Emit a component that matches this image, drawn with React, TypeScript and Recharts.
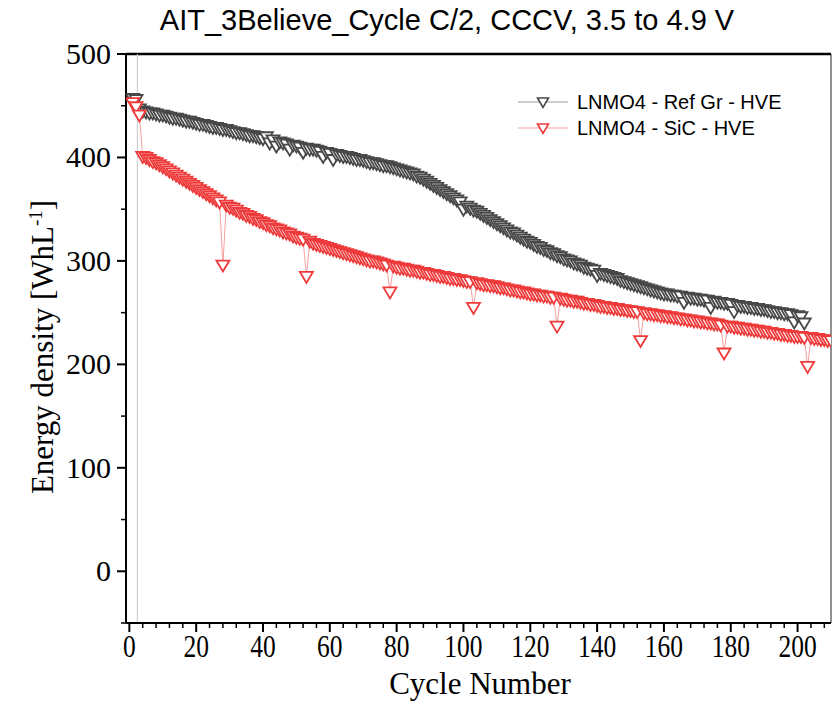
import { LineChart, Line, XAxis, YAxis, ReferenceLine, Legend } from "recharts";

const SERIF = "'Liberation Serif', 'Times New Roman', serif";
const SANS = "'Liberation Sans', Arial, sans-serif";

const chartTitle = "AIT_3Believe_Cycle C/2, CCCV, 3.5 to 4.9 V";
const seriesNames = ["LNMO4 - Ref Gr - HVE", "LNMO4 - SiC - HVE"];

// energy density per cycle (cycle 1..n), WhL-1
const refGrValues = [
  457, 456, 447, 445, 444, 443, 443, 442, 441, 441,
  440, 439, 438, 438, 437, 436, 435, 435, 434, 433,
  432, 432, 431, 430, 429, 429, 428, 427, 427, 426,
  425, 424, 424, 423, 422, 421, 421, 420, 419, 418,
  420, 414, 417, 411, 415, 414, 413, 408, 412, 411,
  410, 405, 409, 408, 408, 407, 406, 401, 405, 404,
  398, 403, 402, 401, 401, 400, 399, 398, 398, 397,
  396, 395, 395, 394, 393, 392, 392, 391, 390, 389,
  388, 387, 386, 385, 384, 382, 381, 379, 377, 375,
  373, 371, 369, 367, 365, 363, 361, 359, 357, 350,
  353, 351, 349, 348, 346, 344, 342, 340, 338, 336,
  334, 332, 330, 328, 327, 325, 323, 321, 319, 318,
  316, 314, 313, 311, 310, 308, 307, 305, 304, 302,
  301, 300, 298, 297, 296, 294, 293, 292, 291, 286,
  288, 287, 286, 285, 284, 283, 281, 280, 279, 278,
  277, 276, 275, 274, 273, 272, 271, 270, 269, 268,
  268, 267, 267, 266, 266, 260, 265, 264, 264, 263,
  263, 262, 262, 255, 261, 260, 260, 259, 259, 258,
  251, 257, 256, 256, 255, 255, 254, 254, 253, 253,
  252, 251, 251, 250, 250, 249, 249, 248, 241, 247,
  246, 240,
];

const sicValues = [
  453, 449, 441, 401, 400, 398, 396, 395, 393, 391,
  389, 387, 385, 383, 381, 379, 377, 375, 373, 371,
  369, 367, 365, 363, 361, 359, 357, 296, 354, 352,
  351, 349, 347, 346, 344, 343, 341, 340, 338, 337,
  335, 334, 332, 331, 330, 328, 327, 326, 324, 323,
  322, 321, 285, 319, 317, 316, 315, 314, 313, 312,
  311, 310, 309, 308, 307, 306, 305, 304, 303, 302,
  301, 300, 300, 299, 298, 297, 296, 270, 295, 294,
  293, 293, 292, 291, 291, 290, 289, 289, 288, 287,
  287, 286, 285, 285, 284, 283, 283, 282, 282, 281,
  280, 280, 255, 279, 278, 277, 277, 276, 276, 275,
  274, 274, 273, 272, 272, 271, 270, 270, 269, 268,
  268, 267, 267, 266, 266, 265, 265, 237, 264, 263,
  262, 262, 261, 261, 260, 259, 259, 258, 258, 257,
  256, 256, 255, 255, 254, 254, 253, 253, 252, 252,
  251, 251, 223, 250, 249, 249, 248, 248, 247, 247,
  246, 246, 245, 245, 244, 244, 243, 243, 242, 242,
  241, 241, 240, 240, 239, 239, 238, 211, 237, 237,
  236, 236, 235, 235, 234, 234, 233, 233, 232, 232,
  231, 231, 230, 230, 229, 229, 228, 228, 227, 227,
  227, 226, 198, 226, 225, 225, 224, 224, 223, 223,
];

const xMajorTicks = [0, 20, 40, 60, 80, 100, 120, 140, 160, 180, 200];
const xAllTicks = [
  0, 4, 8, 12, 16, 20, 24, 28, 32, 36, 40, 44, 48, 52, 56, 60, 64, 68, 72, 76,
  80, 84, 88, 92, 96, 100, 104, 108, 112, 116, 120, 124, 128, 132, 136, 140,
  144, 148, 152, 156, 160, 164, 168, 172, 176, 180, 184, 188, 192, 196, 200,
  204, 208,
];
const yMajorTicks = [0, 100, 200, 300, 400, 500];
const yAllTicks = [-50, 0, 50, 100, 150, 200, 250, 300, 350, 400, 450, 500];

const refGrData = refGrValues.map((v, i) => ({ cycle: i + 1, value: v }));
const sicData = sicValues.map((v, i) => ({ cycle: i + 1, value: v }));

const GRAY_MARK = "#484848";
const GRAY_LINE = "#9c9c9c";
const RED_MARK = "#ee3a3a";
const RED_LINE = "#f6a0a0";

function triangleDot(color: string) {
  return (props: any) => {
    const { cx, cy, index } = props;
    if (cx == null || cy == null) return <g key={index} />;
    return (
      <polygon
        key={index}
        points={`${cx - 6.5},${cy - 4.5} ${cx + 6.5},${cy - 4.5} ${cx},${cy + 6.5}`}
        fill="#fff"
        stroke={color}
        strokeWidth={1.8}
      />
    );
  };
}

function XTick(props: any) {
  const { x, y, payload } = props;
  const major = xMajorTicks.includes(payload.value);
  return (
    <g>
      <line x1={x} x2={x} y1={y} y2={y + (major ? 9 : 5)} stroke="#000" strokeWidth={major ? 2 : 1.5} />
      {major && (
        <text
          transform={`translate(${x},${y + 34}) scale(0.85,1.05)`}
          textAnchor="middle"
          fontFamily={SERIF}
          fontSize={30}
          fill="#000"
        >
          {payload.value}
        </text>
      )}
    </g>
  );
}

function YTick(props: any) {
  const { x, y, payload } = props;
  const major = yMajorTicks.includes(payload.value);
  return (
    <g>
      <line x1={x - (major ? 9 : 5)} x2={x} y1={y} y2={y} stroke="#000" strokeWidth={major ? 2 : 1.5} />
      {major && (
        <text x={x - 15} y={y + 10} textAnchor="end" fontFamily={SERIF} fontSize={30} fill="#000">
          {payload.value}
        </text>
      )}
    </g>
  );
}

function LegendBox() {
  const rows = [
    { name: seriesNames[0], mark: GRAY_MARK, line: GRAY_LINE },
    { name: seriesNames[1], mark: RED_MARK, line: RED_LINE },
  ];
  return (
    <svg width={320} height={60}>
      {rows.map((r, i) => {
        const cy = 14 + i * 26;
        return (
          <g key={r.name}>
            <line x1={8} x2={58} y1={cy} y2={cy} stroke={r.line} strokeWidth={1.2} />
            <polygon
              points={`${33 - 5.5},${cy - 4} ${33 + 5.5},${cy - 4} ${33},${cy + 5.5}`}
              fill="#fff"
              stroke={r.mark}
              strokeWidth={1.6}
            />
            <text x={67} y={cy + 7} fontFamily={SANS} fontSize={20} fill="#000">
              {r.name}
            </text>
          </g>
        );
      })}
    </svg>
  );
}

export default function App() {
  return (
    <div style={{ position: "relative", width: 833, height: 709, background: "#fff" }}>
      <style>{"body{margin:0}"}</style>
      <div
        style={{
          position: "absolute",
          left: 447,
          top: 6,
          transform: "translateX(-50%)",
          whiteSpace: "nowrap",
          fontFamily: SANS,
          fontSize: 29,
          lineHeight: "29px",
          color: "#000",
          zIndex: 2,
        }}
      >
        {chartTitle}
      </div>
      <LineChart width={833} height={709} margin={{ top: 54, right: 2, bottom: 0, left: 0 }}>
        <XAxis
          dataKey="cycle"
          type="number"
          domain={[-1, 210]}
          ticks={xAllTicks}
          interval={0}
          allowDataOverflow
          height={86}
          tickSize={0}
          tickMargin={0}
          tickLine={false}
          axisLine={{ stroke: "#000", strokeWidth: 2 }}
          tick={XTick}
          label={{
            content: () => (
              <text x={480} y={694} textAnchor="middle" fontFamily={SERIF} fontSize={31} fill="#000">
                Cycle Number
              </text>
            ),
          }}
        />
        <YAxis
          type="number"
          domain={[-50, 500]}
          ticks={yAllTicks}
          interval={0}
          allowDataOverflow
          width={126}
          tickSize={0}
          tickMargin={0}
          tickLine={false}
          axisLine={{ stroke: "#000", strokeWidth: 2 }}
          tick={YTick}
          label={{
            content: () => (
              <text
                transform="translate(53,347) rotate(-90)"
                textAnchor="middle"
                fontFamily={SERIF}
                fontSize={31}
                fill="#000"
              >
                Energy density [WhL
                <tspan dy={-11} fontSize={19}>-1</tspan>
                <tspan dy={11}>]</tspan>
              </text>
            ),
          }}
        />
        <ReferenceLine y={500} stroke="#000" strokeWidth={2.5} ifOverflow="visible" />
        <ReferenceLine x={210} stroke="#222" strokeWidth={1} ifOverflow="visible" />
        <ReferenceLine x={2.4} stroke="#c8c8c8" strokeWidth={1} />
        <Line
          data={refGrData}
          dataKey="value"
          name={seriesNames[0]}
          stroke={GRAY_LINE}
          strokeWidth={1}
          dot={triangleDot(GRAY_MARK)}
          activeDot={false}
          isAnimationActive={false}
        />
        <Line
          data={sicData}
          dataKey="value"
          name={seriesNames[1]}
          stroke={RED_LINE}
          strokeWidth={1}
          dot={triangleDot(RED_MARK)}
          activeDot={false}
          isAnimationActive={false}
        />
        <Legend
          layout="vertical"
          align="center"
          verticalAlign="middle"
          wrapperStyle={{ left: 510, top: 88, width: 320, height: 60 }}
          content={() => <LegendBox />}
        />
      </LineChart>
    </div>
  );
}
